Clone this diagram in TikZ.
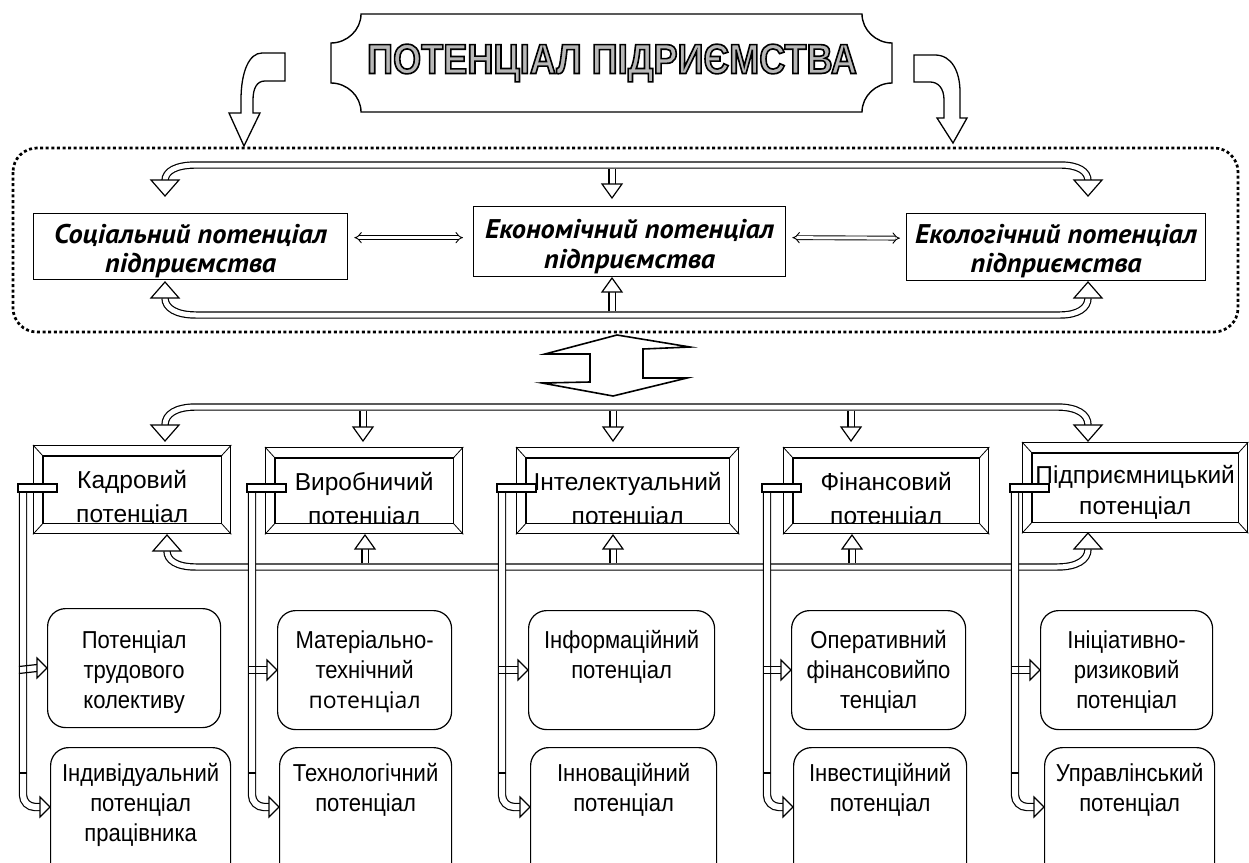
\documentclass[tikz,border=0pt]{standalone}
\usepackage{fontspec}
\setmainfont{Liberation Sans}
\newfontfamily\ttlfam{Liberation Sans}[FakeStretch=0.86]
\newfontfamily\narfam{Liberation Sans}[FakeStretch=0.9]
\newfontfamily\ptsans{PT Sans}[FakeStretch=1.05]
\newfontfamily\opsans{Open Sans}
\usetikzlibrary{calc,arrows.meta}
\newcommand\myrf{\narfam\fontsize{24.5}{30}\selectfont}
\newcommand\myff{\fontsize{24.5}{30}\selectfont}
\newcommand\myif{\ptsans\bfseries\itshape\fontsize{27}{29}\selectfont}
\newcommand\myframe[5]{%
  \node[draw, line width=1.3pt, inner sep=0pt, anchor=north west, minimum width=#4pt, minimum height=#5pt] (#1) at (#2,#3) {};
  \draw[line width=1.3pt] ($(#1.north west)+(10,11)$) rectangle ($(#1.south east)+(-10,-11)$);
  \draw[line width=0.8pt] (#1.north west) -- ++(10,11) (#1.north east) -- ++(-10,11)
        (#1.south west) -- ++(10,-11) (#1.south east) -- ++(-10,-11);}
\begin{document}
\begin{tikzpicture}[x=1pt,y=-1pt,line width=1.2pt,
  dbl/.style={draw, line width=1.2pt, double=white, double distance=5pt},
  sdbl/.style={draw, line width=1.2pt, double=white, double distance=6pt},
  tdbl/.style={draw, line width=0.9pt, double=white, double distance=3pt, {Implies}-{Implies}},
  hd/.style={draw, line width=1.2pt, fill=white, line join=miter},
  pics/bighead/.style={code={\draw[hd] (0,0) -- (-16,-14) -- (-16,14) -- cycle;}},
  pics/midhead/.style={code={\draw[hd] (0,0) -- (-14,-10) -- (-14,10) -- cycle;}},
  pics/smallhead/.style={code={\draw[hd] (0,0) -- (-10,-10) -- (-10,10) -- cycle;}},
  ttl/.style={font=\ttlfam\bfseries\fontsize{42}{42}\selectfont, inner sep=0pt},
  topbox/.style={draw, line width=1.3pt, inner sep=0pt, anchor=north west},
  itxt/.style={font=\myif, inner sep=0pt, anchor=base},
  ftxt/.style={font=\myff, inner sep=0pt, anchor=base},
  rbox/.style={draw, line width=1.2pt, rounded corners=18pt, inner sep=0pt, anchor=north west},
  rtxt/.style={font=\myrf, align=center, inner sep=0pt, anchor=north}]
\useasboundingbox (0,0) rectangle (1249,862);
\fill[white] (0,0) rectangle (1249,862);

% ---------- title plaque ----------
\draw[line width=1.4pt, fill=white] (361,14) -- (862,14) .. controls (862,30) and (876,43) .. (892,43)
  -- (892,83) .. controls (876,83) and (862,96) .. (862,112) -- (361,112)
  .. controls (361,96) and (347,83) .. (331,83) -- (331,43) .. controls (347,43) and (361,30) .. (361,14) -- cycle;
\node[ttl] (title) at (612,63) {\special{pdf:literal direct q 2 Tr 1.6 w 0 G 0.72 g}ПОТЕНЦІАЛ ПІДРИЄМСТВА\special{pdf:literal direct Q}};

% ---------- bent arrows from the title ----------
\draw[hd, line width=1.3pt] (285,53) -- (262,53) .. controls (249,53) and (241,72) .. (241,100) -- (241,113)
  -- (229,113) -- (244,146) -- (260,113) -- (253,113) -- (253,100) .. controls (253,88) and (257,81) .. (265,81)
  -- (285,81) -- cycle;
\draw[hd, line width=1.3pt] (914,55) -- (935,55) .. controls (952,55) and (960,72) .. (960,92) -- (960,118)
  -- (967,118) -- (953,143) -- (937,118) -- (944,118) -- (944,100) .. controls (944,88) and (938,82) .. (930,82)
  -- (914,82) -- cycle;

% ---------- dotted frame ----------
\draw[line width=2.7pt, dash pattern=on 3pt off 2.6pt, rounded corners=24pt] (13,148) rectangle (1238,332);

% ---------- three top boxes ----------
\node[topbox, minimum width=314pt, minimum height=66pt] (soc) at (33,213) {};
\node[topbox, minimum width=312pt, minimum height=70pt] (eco) at (473,206) {};
\node[topbox, minimum width=299pt, minimum height=67pt] (ekl) at (906,213) {};
\begin{scope}
\clip (soc.north west) rectangle (soc.south east);
\node[itxt] (soc1) at ($(soc.north)+(0,30)$) {Соціальний потенціал};
\node[itxt] (soc2) at ($(soc.north)+(0,59)$) {підприємства};
\end{scope}
\begin{scope}
\clip (eco.north west) rectangle (eco.south east);
\node[itxt] (eco1) at ($(eco.north)+(0,32)$) {Економічний потенціал};
\node[itxt] (eco2) at ($(eco.north)+(0,62)$) {підприємства};
\end{scope}
\begin{scope}
\clip (ekl.north west) rectangle (ekl.south east);
\node[itxt] (ekl1) at ($(ekl.north)+(0,30)$) {Екологічний потенціал};
\node[itxt] (ekl2) at ($(ekl.north)+(0,59)$) {підприємства};
\end{scope}
\draw[tdbl] ($(soc.east)+(6,-9)$) -- ($(eco.west)+(-10,-4)$);
\draw[tdbl] ($(eco.east)+(6,-4)$) -- ($(ekl.west)+(-6,-9)$);

% top connector line
\coordinate (tl) at (165,196);
\coordinate (tr) at (1088,196);
\coordinate (tm) at (612,198);
\draw[dbl] ($(tl)+(0,-15)$) .. controls (165,171) and (176,165) .. (196,165) -- (1060,165)
  .. controls (1078,165) and (1088,171) .. ($(tr)+(0,-15)$);
\draw[dbl] (612,168.7) -- ($(tm)+(0,-14)$);
\pic[rotate=-90] at (tl) {bighead};
\pic[rotate=-90] at (tr) {bighead};
\pic[rotate=-90] at (tm) {midhead};
% bottom connector line
\coordinate (bl) at (165,282);
\coordinate (br) at (1088,282);
\coordinate (bm) at (612,278);
\draw[dbl] ($(bl)+(0,16)$) .. controls (165,308) and (176,315) .. (196,315) -- (1060,315)
  .. controls (1078,315) and (1088,308) .. ($(br)+(0,16)$);
\draw[dbl] (612,311.3) -- ($(bm)+(0,14)$);
\pic[rotate=90] at (bl) {bighead};
\pic[rotate=90] at (br) {bighead};
\pic[rotate=90] at (bm) {midhead};

% ---------- big two-headed arrow ----------
\draw[hd, line width=1.6pt] (617,335) -- (690,347) -- (643,349) -- (643,378) -- (687,378) -- (613,396)
  -- (542,383) -- (590,382) -- (590,354) -- (545,354) -- cycle;

% ---------- five framed boxes ----------
\myframe{f1}{33}{445}{197}{88}
\myframe{f2}{265}{447}{197}{86}
\myframe{f3}{516}{447}{222}{86}
\myframe{f4}{783}{447}{205}{86}
\myframe{f5}{1022}{442}{225}{90}
\foreach \n/\t in {f1/Кадровий, f2/Виробничий, f3/Інтелектуальний, f4/Фінансовий}{
  \begin{scope}
  \clip ($(\n.north west)+(10,11)$) rectangle ($(\n.south east)+(-10,-11)$);
  \node[ftxt] (\n a) at ($(\n.north)+(0,43)$) {\t};
  \node[ftxt] (\n b) at ($(\n.north)+(0,77)$) {потенціал};
  \end{scope}}
\node[ftxt] (f5a) at ($(f5.north)+(0,41)$) {Підприємницький};
\node[ftxt] (f5b) at ($(f5.north)+(0,72)$) {потенціал};

% lower connector lines
\coordinate (ll) at (165,441);
\coordinate (lr) at (1088,441);
\draw[dbl] ($(ll)+(0,-16)$) .. controls (165,414) and (176,407) .. (196,407) -- (1057,407)
  .. controls (1077,407) and (1088,414) .. ($(lr)+(0,-16)$);
\pic[rotate=-90] at (ll) {bighead};
\pic[rotate=-90] at (lr) {bighead};
\foreach \x in {363,613,851}{
  \draw[dbl] (\x,410.7) -- (\x,427);
  \pic[rotate=-90] at (\x,441) {midhead};}
\coordinate (ml) at (167,535);
\coordinate (mr) at (1088,533);
\draw[dbl] ($(ml)+(0,16)$) .. controls (167,560) and (176,567) .. (196,567) -- (1057,567)
  .. controls (1077,567) and (1088,560) .. ($(mr)+(0,16)$);
\pic[rotate=90] at (ml) {bighead};
\pic[rotate=90] at (mr) {bighead};
\foreach \x in {365,613,852}{
  \draw[dbl] (\x,563.3) -- (\x,549);
  \pic[rotate=90] at (\x,535) {midhead};}

% ---------- rounded boxes ----------
\node[rbox, minimum width=173pt, minimum height=119pt] (r1a) at (47,608) {};
\node[rbox, minimum width=180pt, minimum height=150pt] (r1b) at (50,747) {};
\node[rbox, minimum width=174pt, minimum height=119pt] (r2a) at (277,610) {};
\node[rbox, minimum width=172pt, minimum height=150pt] (r2b) at (279,747) {};
\node[rbox, minimum width=186pt, minimum height=119pt] (r3a) at (528,610) {};
\node[rbox, minimum width=186pt, minimum height=150pt] (r3b) at (530,747) {};
\node[rbox, minimum width=174pt, minimum height=119pt] (r4a) at (791,610) {};
\node[rbox, minimum width=173pt, minimum height=150pt] (r4b) at (793,747) {};
\node[rbox, minimum width=172pt, minimum height=119pt] (r5a) at (1040,610) {};
\node[rbox, minimum width=170pt, minimum height=150pt] (r5b) at (1044,747) {};

\node[rtxt] (t1a) at ($(r1a.north)+(0,21)$) {\rule{0pt}{19pt}Потенціал\\трудового\\колективу};
\node[rtxt] (t1b) at ($(r1b.north)+(0,15)$) {\rule{0pt}{19pt}Індивідуальний\\потенціал\\працівника};
\node[rtxt] (t2a) at ($(r2a.north)+(0,19)$) {\rule{0pt}{19pt}Матеріально-\\технічний\\{\opsans\fontsize{23}{30}\selectfont потенціал}};
\node[rtxt] (t2b) at ($(r2b.north)+(0,15)$) {\rule{0pt}{19pt}Технологічний\\потенціал};
\node[rtxt] (t3a) at ($(r3a.north)+(0,19)$) {\rule{0pt}{19pt}Інформаційний\\потенціал};
\node[rtxt] (t3b) at ($(r3b.north)+(0,15)$) {\rule{0pt}{19pt}Інноваційний\\потенціал};
\node[rtxt] (t4a) at ($(r4a.north)+(0,19)$) {\rule{0pt}{19pt}Оперативний\\фінансовийпо\\тенціал};
\node[rtxt] (t4b) at ($(r4b.north)+(0,15)$) {\rule{0pt}{19pt}Інвестиційний\\потенціал};
\node[rtxt] (t5a) at ($(r5a.north)+(0,19)$) {\rule{0pt}{19pt}Ініціативно-\\ризиковий\\потенціал};
\node[rtxt] (t5b) at ($(r5b.north)+(0,15)$) {\rule{0pt}{19pt}Управлінський\\потенціал};

% ---------- side connectors ----------
\foreach \X/\n in {19/1, 248/2, 498/3, 763/4, 1011/5}{
  \coordinate (ua\n) at ($(r\n a.north west)+(0,60)$);
  \coordinate (lb\n) at ($(r\n b.north west)+(0,60)$);
  \draw[sdbl, rounded corners=12pt] (\X+4,492) -- (\X+4,773) |- ($(lb\n)+(-10,0)$);
  \draw[line width=1.2pt] (\X+0.4,773) -- (\X+7.6,773);
  \draw[line width=1.2pt] (\X,666.5) -- ($(ua\n)+(-10,-3.5)$) (\X,673.5) -- ($(ua\n)+(-10,3.5)$);
  \pic at (ua\n) {smallhead};
  \pic at (lb\n) {smallhead};
  \draw[line width=1.2pt, fill=white] (\X-1,484) rectangle (\X+38,492);
}
\end{tikzpicture}
\end{document}
